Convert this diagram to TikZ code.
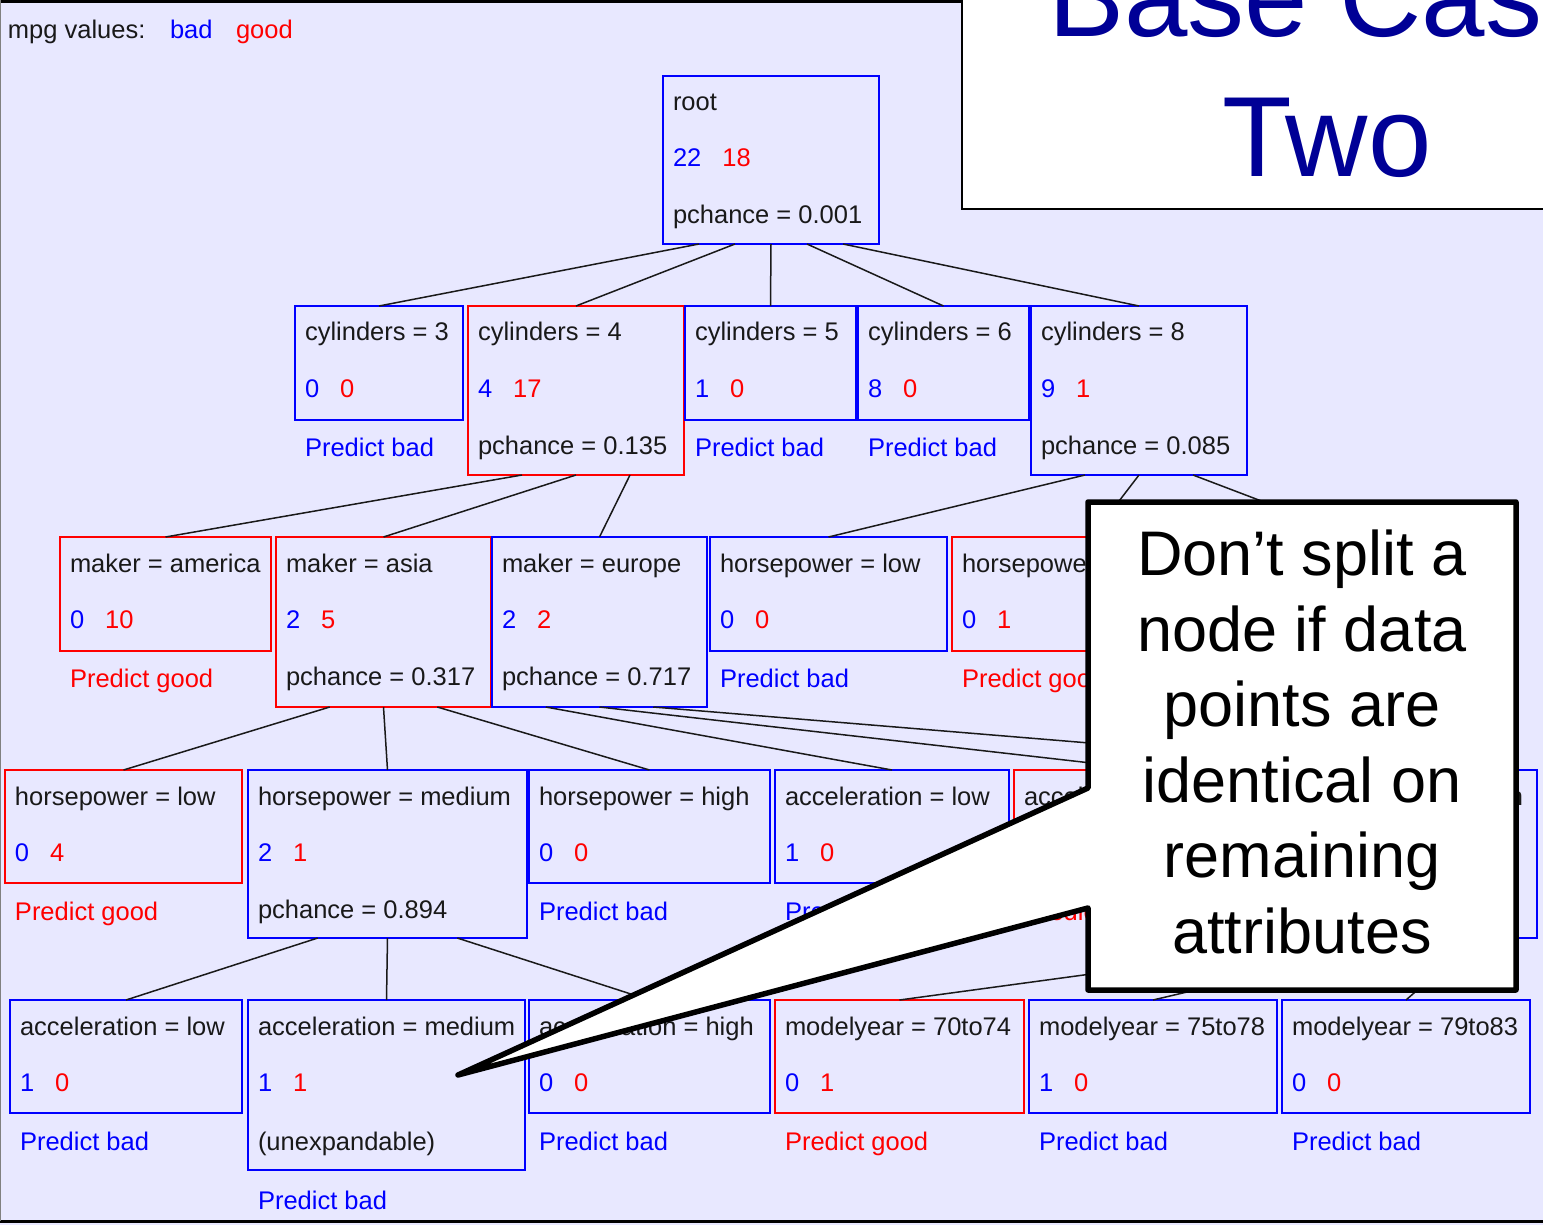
\documentclass[tikz,border=0pt]{standalone}
\usepackage{fontspec}
\setmainfont{Liberation Sans}
\usetikzlibrary{calc}
\definecolor{bg}{RGB}{232,232,255}
\definecolor{cblue}{RGB}{0,0,255}
\definecolor{cred}{RGB}{255,0,0}
\definecolor{navy}{RGB}{0,0,150}
\definecolor{ink}{RGB}{25,25,25}
\tikzset{
  treebox/.style={draw,line width=2pt,inner sep=0pt,outer sep=0pt,anchor=north west},
  txt/.style={anchor=base west,inner sep=0pt,outer sep=0pt,text=ink,font=\fontsize{25.5}{30}\selectfont},
  edge/.style={draw=ink,line width=1.5pt},
  titletxt/.style={anchor=base,inner sep=0pt,text=navy,font=\fontsize{114}{137}\selectfont},
  calltxt/.style={align=center,inner sep=0pt,text=black,font=\fontsize{63}{75.5}\selectfont}
}
% name, x, y, w, h, colour, label, bad count, good count
\newcommand\Bx[9]{%
  \node[treebox,draw=#6,minimum width=#4,minimum height=#5] (#1) at (#2,#3) {};
  \node[txt] (#1-a) at ([xshift=10pt,yshift=-35pt]#1.north west) {#7};
  \node[txt,text=cblue] (#1-b) at ([xshift=10pt,yshift=-91pt]#1.north west) {#8};
  \node[txt,text=cred] (#1-c) at ([xshift=21pt]#1-b.base east) {#9};
}
% name, offset, colour, text
\newcommand\Lc[4]{\node[txt,text=#3] (#1-l#2) at ([xshift=10pt,yshift=-#2pt]#1.north west) {#4};}
% parent, fraction, child
\newcommand\Ed[3]{\draw[edge] ($(#1.south west)!#2!(#1.south east)$) -- (#3.north);}
\begin{document}
\begin{tikzpicture}[x={(1pt,0)},y={(0,-1pt)}]
\useasboundingbox (0,0) rectangle (1543,1225);
\clip (0,0) rectangle (1543,1225);
\fill[bg] (0,0) rectangle (1543,1225);
\draw[line width=3pt,black] (0,1.5) -- (962,1.5);
\draw[line width=3pt,black] (0,1221) -- (1543,1221);
\draw[line width=1pt,gray] (0.5,0) -- (0.5,1221);

% legend
\node[txt] (leg) at (8,39) {mpg values:};
\node[txt,text=cblue] (legbad) at (170,39) {bad};
\node[txt,text=cred] (leggood) at (236,39) {good};

% root
\Bx{root}{663}{76}{216}{168}{cblue}{root}{22}{18}
\Lc{root}{148}{ink}{pchance = 0.001}

% row 1
\Bx{cylA}{295}{306}{168}{114}{cblue}{cylinders = 3}{0}{0}
\Lc{cylA}{150}{cblue}{Predict bad}
\Bx{cylB}{468}{306}{216}{169}{cred}{cylinders = 4}{4}{17}
\Lc{cylB}{148}{ink}{pchance = 0.135}
\Bx{cylC}{685}{306}{171}{114}{cblue}{cylinders = 5}{1}{0}
\Lc{cylC}{150}{cblue}{Predict bad}
\Bx{cylD}{858}{306}{171}{114}{cblue}{cylinders = 6}{8}{0}
\Lc{cylD}{150}{cblue}{Predict bad}
\Bx{cylE}{1031}{306}{216}{169}{cblue}{cylinders = 8}{9}{1}
\Lc{cylE}{148}{ink}{pchance = 0.085}

% row 2
\Bx{am}{60}{537}{211}{114}{cred}{maker = america}{0}{10}
\Lc{am}{150}{cred}{Predict good}
\Bx{as}{276}{537}{215}{170}{cred}{maker = asia}{2}{5}
\Lc{as}{148}{ink}{pchance = 0.317}
\Bx{eu}{492}{537}{215}{170}{cblue}{maker = europe}{2}{2}
\Lc{eu}{148}{ink}{pchance = 0.717}
\Bx{hplE}{710}{537}{237}{114}{cblue}{horsepower = low}{0}{0}
\Lc{hplE}{150}{cblue}{Predict bad}
\Bx{hpmE}{952}{537}{279}{114}{cred}{horsepower = medium}{0}{1}
\Lc{hpmE}{150}{cred}{Predict good}
\coordinate (hphE) at (1356,537);

% row 3
\Bx{hpl}{5}{770}{237}{113}{cred}{horsepower = low}{0}{4}
\Lc{hpl}{150}{cred}{Predict good}
\Bx{hpm}{248}{770}{279}{168}{cblue}{horsepower = medium}{2}{1}
\Lc{hpm}{148}{ink}{pchance = 0.894}
\Bx{hph}{529}{770}{241}{113}{cblue}{horsepower = high}{0}{0}
\Lc{hph}{150}{cblue}{Predict bad}
\Bx{aclE}{775}{770}{234}{113}{cblue}{acceleration = low}{1}{0}
\Lc{aclE}{150}{cblue}{Predict bad}
\Bx{acmE}{1014}{770}{277}{113}{cred}{acceleration = medium}{0}{1}
\Lc{acmE}{150}{cred}{Predict good}
\node[treebox,draw=cblue,minimum width=241,minimum height=168] (achE) at (1296,770) {};
\node[txt,anchor=base east] (achE-a) at ([xshift=-14pt,yshift=-35pt]achE.north east) {acceleration = high};

% row 4
\Bx{acl}{10}{1000}{232}{113}{cblue}{acceleration = low}{1}{0}
\Lc{acl}{150}{cblue}{Predict bad}
\Bx{acm}{248}{1000}{277}{170}{cblue}{acceleration = medium}{1}{1}
\Lc{acm}{150}{ink}{(unexpandable)}
\Lc{acm}{209}{cblue}{Predict bad}
\Bx{ach}{529}{1000}{241}{113}{cblue}{acceleration = high}{0}{0}
\Lc{ach}{150}{cblue}{Predict bad}
\Bx{myA}{775}{1000}{249}{113}{cred}{modelyear = 70to74}{0}{1}
\Lc{myA}{150}{cred}{Predict good}
\Bx{myB}{1029}{1000}{248}{113}{cblue}{modelyear = 75to78}{1}{0}
\Lc{myB}{150}{cblue}{Predict bad}
\Bx{myC}{1282}{1000}{248}{113}{cblue}{modelyear = 79to83}{0}{0}
\Lc{myC}{150}{cblue}{Predict bad}

% edges
\Ed{root}{1/6}{cylA}
\Ed{root}{2/6}{cylB}
\Ed{root}{3/6}{cylC}
\Ed{root}{4/6}{cylD}
\Ed{root}{5/6}{cylE}
\Ed{cylB}{1/4}{am}
\Ed{cylB}{2/4}{as}
\Ed{cylB}{3/4}{eu}
\Ed{cylE}{1/4}{hplE}
\Ed{cylE}{2/4}{hpmE}
\draw[edge] ($(cylE.south west)!3/4!(cylE.south east)$) -- (hphE);
\Ed{as}{1/4}{hpl}
\Ed{as}{2/4}{hpm}
\Ed{as}{3/4}{hph}
\Ed{eu}{1/4}{aclE}
\Ed{eu}{2/4}{acmE}
\Ed{eu}{3/4}{achE}
\Ed{hpm}{1/4}{acl}
\Ed{hpm}{2/4}{acm}
\Ed{hpm}{3/4}{ach}
\Ed{achE}{1/4}{myA}
\Ed{achE}{2/4}{myB}
\Ed{achE}{3/4}{myC}

% title box
\draw[line width=2pt,black,fill=white] (962,-20) rectangle (1600,209);
\node[titletxt] (title1) at (1327,37) {Base Case};
\node[titletxt] (title2) at (1327,177) {Two};

% callout
\draw[line width=5.5pt,black,fill=white,line join=round]
  (1088,502) -- (1516,502) -- (1516,990) -- (1088,990) -- (1088,908)
  -- (458,1075) -- (1088,788) -- cycle;
\node[calltxt] (callout) at (1302,742) {Don’t split a\\node if data\\points are\\identical on\\remaining\\attributes};
\end{tikzpicture}
\end{document}
